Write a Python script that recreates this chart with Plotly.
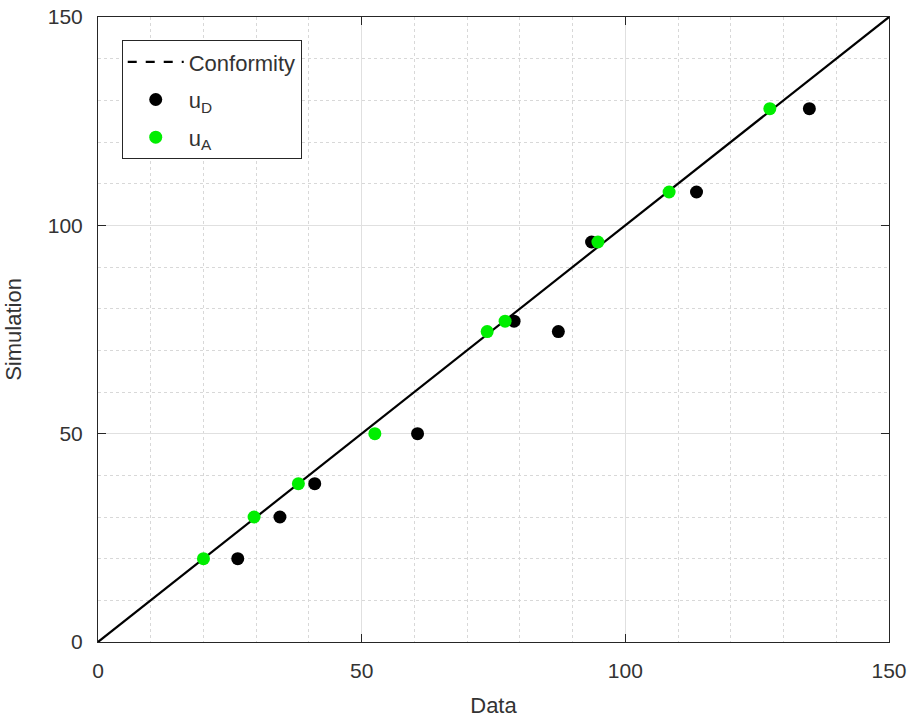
import plotly.graph_objects as go

# Simulation values (y) shared by both series
simulation = [20, 30, 38, 50, 74.5, 77, 96, 108, 128]
# Data values (x) for each series
data_uD = [26.5, 34.5, 41.1, 60.6, 87.3, 78.9, 93.6, 113.5, 134.9]
data_uA = [20, 29.6, 38, 52.5, 73.8, 77.2, 94.8, 108.3, 127.4]
conformity = [0, 150]
axis_ticks = [0, 50, 100, 150]

FONT = "Liberation Sans, Arial, sans-serif"
TXT = "#333333"

fig = go.Figure()

# conformity line (drawn solid), legend entry dashed as in reference
fig.add_trace(go.Scatter(x=conformity, y=conformity, mode="lines",
                         line=dict(color="black", width=2.2),
                         showlegend=False, hoverinfo="skip"))
fig.add_trace(go.Scatter(x=[None], y=[None], mode="lines", name="Conformity",
                         legendgroup="c",
                         line=dict(color="black", width=2.2, dash="dash")))
fig.add_trace(go.Scatter(x=data_uD, y=simulation, mode="markers", name="u<sub>D</sub>",
                         legendgroup="d",
                         marker=dict(color="black", size=13)))
fig.add_trace(go.Scatter(x=data_uA, y=simulation, mode="markers", name="u<sub>A</sub>",
                         legendgroup="a",
                         marker=dict(color="#00ee00", size=13)))

axis_common = dict(
    range=[0, 150], tickvals=axis_ticks, ticktext=[str(t) for t in axis_ticks],
    showline=True, linecolor="#262626", linewidth=1, mirror="ticks",
    ticks="inside", ticklen=8, tickcolor="#262626",
    showgrid=True, gridcolor="#e0e0e0", gridwidth=1,
    minor=dict(dtick=10, showgrid=True, gridcolor="#d8d8d8", griddash="dot", gridwidth=1),
    zeroline=False, automargin=False, ticklabeloverflow="allow",
    tickfont=dict(family=FONT, size=21, color=TXT),
)

fig.update_layout(
    width=909, height=718,
    margin=dict(l=98, r=20, t=17, b=76),
    plot_bgcolor="white", paper_bgcolor="white",
    font=dict(family=FONT, color=TXT),
    xaxis=dict(**axis_common, ticklabelstandoff=10,
               title=dict(text="Data", font=dict(family=FONT, size=22, color=TXT), standoff=17)),
    yaxis=dict(**axis_common, ticklabelstandoff=10,
               title=dict(text="Simulation", font=dict(family=FONT, size=22, color=TXT), standoff=20)),
    legend=dict(x=0.03, y=0.963, xanchor="left", yanchor="top",
                bgcolor="white", bordercolor="#262626", borderwidth=1,
                font=dict(family=FONT, size=22, color=TXT),
                itemwidth=56, tracegroupgap=6),
    showlegend=True,
)

fig.write_html("out.html", config={"displayModeBar": False},
               post_script="document.body.style.margin='0';")
